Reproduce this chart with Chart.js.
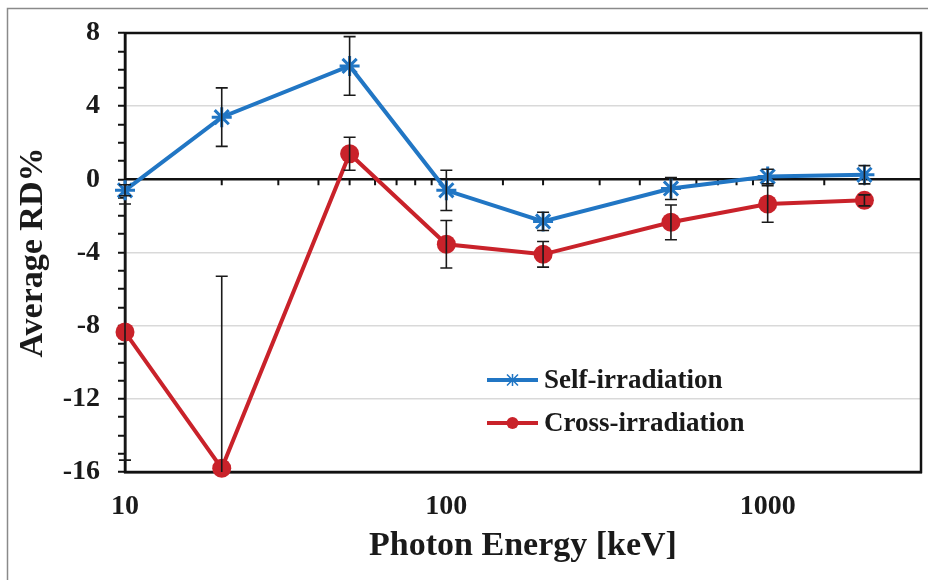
<!DOCTYPE html>
<html><head><meta charset="utf-8">
<script src="https://cdn.jsdelivr.net/npm/chart.js@4/dist/chart.umd.min.js"></script>
<style>html,body{margin:0;padding:0;background:#fff}#wrap{width:928px;height:580px;position:relative}</style>
</head><body><div id="wrap"><canvas id="c"></canvas></div>
<script>
// ---- data ----
const energies = [10, 20, 50, 100, 200, 500, 1000, 2000];
const selfRD   = [-0.6, 3.4, 6.2, -0.6, -2.3, -0.5, 0.15, 0.25];
const selfErr  = [0.3, 1.6, 1.6, 1.1, 0.5, 0.6, 0.4, 0.5];
const crossRD  = [-8.35, -15.8, 1.4, -3.55, -4.1, -2.35, -1.35, -1.15];
const crossErr = [7.0, 10.5, 0.9, 1.3, 0.7, 0.95, 1.0, 0.3];
const seriesNames = ['Self-irradiation', 'Cross-irradiation'];
const xLabels = [10, 100, 1000];
const yLabels = [8, 4, 0, -4, -8, -12, -16];
const gridValues = [4, -4, -8, -12];

const BLUE = '#2176c4', RED = '#c9222a', INK = '#1a1a1a';
const FONT = 'Liberation Serif';

function drawStar(ctx, x, y, r) {
  ctx.beginPath();
  ctx.moveTo(x - r, y - r); ctx.lineTo(x + r, y + r);
  ctx.moveTo(x - r, y + r); ctx.lineTo(x + r, y - r);
  ctx.moveTo(x, y - r * 1.1); ctx.lineTo(x, y + r * 1.1);
  ctx.stroke();
}

const framePlugin = {
  id: 'frame',
  beforeDraw(chart) {
    const ctx = chart.ctx;
    ctx.save();
    ctx.fillStyle = '#fff';
    ctx.fillRect(0, 0, chart.width, chart.height);
    ctx.strokeStyle = '#8a8a8a';
    ctx.lineWidth = 1.5;
    ctx.strokeRect(7.5, 8.5, chart.width + 10, chart.height + 10);
    ctx.restore();
  },
  beforeDatasetsDraw(chart) {
    const {ctx, chartArea: a, scales: {x, y}} = chart;
    ctx.save();
    ctx.strokeStyle = '#111';
    ctx.lineWidth = 2.5;
    ctx.strokeRect(a.left, a.top, a.right - a.left, a.bottom - a.top);
    const y0 = y.getPixelForValue(0);
    ctx.beginPath(); ctx.moveTo(a.left, y0); ctx.lineTo(a.right, y0); ctx.stroke();
    ctx.lineWidth = 2;
    ctx.beginPath();
    x.ticks.forEach(t => {
      const px = x.getPixelForValue(t.value);
      if (px > a.left + 1 && px < a.right - 1) { ctx.moveTo(px, y0); ctx.lineTo(px, y0 + 6); }
    });
    ctx.stroke();
    ctx.restore();
  }
};

const errorBars = {
  id: 'errorBars',
  afterDatasetsDraw(chart) {
    const {ctx, chartArea: a, scales: {x, y}} = chart;
    ctx.save();
    ctx.beginPath();
    ctx.rect(a.left - 20, a.top - 20, a.right - a.left + 40, a.bottom - a.top + 20);
    ctx.clip();
    ctx.strokeStyle = INK;
    ctx.lineWidth = 1.6;
    chart.data.datasets.forEach(ds => {
      ds.errors.forEach((e, i) => {
        const px = x.getPixelForValue(energies[i]);
        const v = ds.data[i].y;
        const top = y.getPixelForValue(v + e), bot = y.getPixelForValue(v - e);
        ctx.beginPath();
        ctx.moveTo(px, top); ctx.lineTo(px, bot);
        ctx.moveTo(px - 6, top); ctx.lineTo(px + 6, top);
        ctx.moveTo(px - 6, bot); ctx.lineTo(px + 6, bot);
        ctx.stroke();
      });
    });
    ctx.restore();
  }
};

const legendPlugin = {
  id: 'legendBox',
  afterDraw(chart, args, opts) {
    const ctx = chart.ctx;
    ctx.save();
    chart.data.datasets.forEach((ds, i) => {
      const yy = opts.y0 + i * opts.dy;
      ctx.strokeStyle = ds.borderColor;
      ctx.fillStyle = ds.borderColor;
      ctx.lineWidth = 4;
      ctx.beginPath(); ctx.moveTo(opts.x0, yy); ctx.lineTo(opts.x1, yy); ctx.stroke();
      const cx = (opts.x0 + opts.x1) / 2;
      if (ds.pointStyle === 'circle') {
        ctx.beginPath(); ctx.arc(cx, yy, 6, 0, Math.PI * 2); ctx.fill();
      } else {
        ctx.lineWidth = 1.5; drawStar(ctx, cx, yy, 5.5);
      }
      ctx.fillStyle = INK;
      ctx.font = 'bold 27px "' + FONT + '"';
      ctx.textBaseline = 'middle';
      ctx.textAlign = 'left';
      ctx.fillText(ds.label, opts.x1 + 6, yy + 1);
    });
    ctx.restore();
  }
};

const tickFont = {family: FONT, size: 28, weight: 'bold'};
const titleFont = {family: FONT, size: 34, weight: 'bold'};

new Chart(document.getElementById('c'), {
  type: 'line',
  data: {
    datasets: [
      {
        label: seriesNames[0],
        data: energies.map((e, i) => ({x: e, y: selfRD[i]})),
        errors: selfErr,
        borderColor: BLUE, backgroundColor: BLUE,
        borderWidth: 4, pointStyle: 'star', pointRadius: 10,
        pointBorderWidth: 3, pointBorderColor: BLUE,
        clip: false, order: 2, tension: 0
      },
      {
        label: seriesNames[1],
        data: energies.map((e, i) => ({x: e, y: crossRD[i]})),
        errors: crossErr,
        borderColor: RED, backgroundColor: RED,
        borderWidth: 4, pointStyle: 'circle', pointRadius: 9.5,
        pointBorderWidth: 0, pointBackgroundColor: RED,
        clip: false, order: 1, tension: 0
      }
    ]
  },
  options: {
    responsive: true,
    maintainAspectRatio: false,
    animation: false,
    events: [],
    layout: {autoPadding: false, padding: {top: 33, right: 7, left: 0, bottom: 0}},
    plugins: {
      legend: {display: false},
      tooltip: {enabled: false},
      legendBox: {x0: 487, x1: 538, y0: 380, dy: 43}
    },
    scales: {
      x: {
        type: 'logarithmic', min: 10, max: 3000,
        afterFit(s) { s.height = 108; s.paddingLeft = 0; s.paddingRight = 0; },
        ticks: {
          autoSkip: false, maxRotation: 0, padding: 18, color: INK, font: tickFont,
          callback: (v) => xLabels.includes(Math.round(v)) ? String(Math.round(v)) : ''
        },
        grid: {display: false, drawTicks: false},
        border: {display: true, color: '#111', width: 2.5},
        title: {display: true, text: 'Photon Energy [keV]', color: INK, font: titleFont, padding: {top: 0, bottom: 13}}
      },
      y: {
        min: -16, max: 8,
        afterFit(s) { s.width = 125; s.paddingTop = 0; s.paddingBottom = 0; },
        ticks: {
          stepSize: 1, autoSkip: false, maxTicksLimit: 40, padding: 18, color: INK, font: tickFont,
          callback: (v) => yLabels.includes(v) ? String(v) : ''
        },
        grid: {
          color: (c) => (c.tick && gridValues.includes(c.tick.value)) ? '#d9d9d9' : 'rgba(0,0,0,0)',
          lineWidth: 1.5, tickColor: '#111', tickLength: 7, tickWidth: 2, drawTicks: true
        },
        border: {display: true, color: '#111', width: 2.5},
        title: {display: true, text: 'Average RD%', color: INK, font: titleFont, padding: {top: 13, bottom: 0}}
      }
    }
  },
  plugins: [framePlugin, errorBars, legendPlugin]
});
</script>
</body></html>
